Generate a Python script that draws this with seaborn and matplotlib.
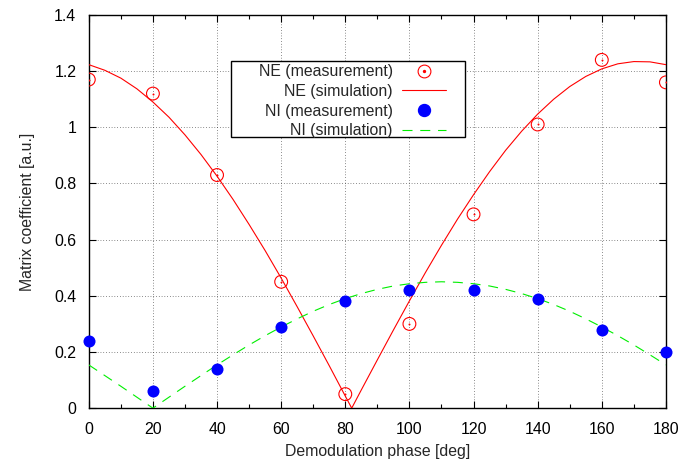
import numpy as np
import pandas as pd
import seaborn as sns
import matplotlib
matplotlib.use("Agg")
import matplotlib.pyplot as plt
from matplotlib.lines import Line2D
from matplotlib.patches import Rectangle
from matplotlib.legend_handler import HandlerTuple
from matplotlib.ticker import MultipleLocator, FuncFormatter

fase_mis = [0, 20, 40, 60, 80, 100, 120, 140, 160, 180]
ne_mis = [1.17, 1.12, 0.83, 0.45, 0.05, 0.30, 0.69, 1.01, 1.24, 1.16]
ni_mis = [0.24, 0.06, 0.14, 0.29, 0.38, 0.42, 0.42, 0.39, 0.28, 0.20]

# simulazione NE (minimo a ~82 deg)
fase_ne_sim = [0, 5, 10, 15, 20, 25, 30, 35, 40, 45, 50, 55, 60, 65, 70, 75, 80, 82,
               85, 90, 95, 100, 105, 110, 115, 120, 125, 130, 135, 140, 145, 150,
               155, 160, 165, 170, 175, 180]
ne_sim = [1.223, 1.203, 1.175, 1.137, 1.090, 1.036, 0.973, 0.903, 0.826, 0.743,
          0.654, 0.561, 0.463, 0.361, 0.257, 0.151, 0.043, 0.0, 0.065, 0.172,
          0.278, 0.382, 0.483, 0.580, 0.673, 0.760, 0.842, 0.918, 0.986, 1.047,
          1.100, 1.145, 1.181, 1.208, 1.226, 1.234, 1.233, 1.223]

# simulazione NI (minimo a ~20 deg)
fase_ni_sim = [0, 5, 10, 15, 20, 25, 30, 35, 40, 45, 50, 55, 60, 65, 70, 75, 80,
               85, 90, 95, 100, 105, 110, 115, 120, 125, 130, 135, 140, 145, 150,
               155, 160, 165, 170, 175, 180]
ni_sim = [0.154, 0.116, 0.078, 0.039, 0.0, 0.039, 0.078, 0.116, 0.154, 0.190,
          0.225, 0.258, 0.289, 0.318, 0.345, 0.369, 0.390, 0.408, 0.423, 0.435,
          0.443, 0.448, 0.450, 0.448, 0.443, 0.435, 0.423, 0.408, 0.390, 0.369,
          0.345, 0.318, 0.289, 0.258, 0.225, 0.190, 0.154]

sns.set_theme(style="ticks")
plt.rcParams["font.family"] = ["Liberation Sans", "DejaVu Sans"]
FS = 11.4
plt.rcParams["font.size"] = FS

ROSSO = "#ff0000"
BLU = "#0000ff"
VERDE = "#00ee00"

df_mis = pd.DataFrame({"fase": fase_mis, "NE": ne_mis, "NI": ni_mis})
df_ne = pd.DataFrame({"fase": fase_ne_sim, "val": ne_sim})
df_ni = pd.DataFrame({"fase": fase_ni_sim, "val": ni_sim})

fig = plt.figure(figsize=(6.83, 4.67), dpi=100)
ax = fig.add_axes([0.130, 0.126, 0.845, 0.842])

sns.lineplot(data=df_ne, x="fase", y="val", color=ROSSO, linewidth=0.8,
             estimator=None, ax=ax, zorder=3)
sns.lineplot(data=df_ni, x="fase", y="val", color=VERDE, linewidth=0.8,
             linestyle=(0, (9, 7)), estimator=None, ax=ax, zorder=3)
sns.scatterplot(data=df_mis, x="fase", y="NE", marker="o", s=85,
                facecolor="none", edgecolor=ROSSO, linewidth=0.8, ax=ax, zorder=4)
sns.scatterplot(data=df_mis, x="fase", y="NE", marker="o", s=2,
                color=ROSSO, linewidth=0, ax=ax, zorder=4)
sns.scatterplot(data=df_mis, x="fase", y="NI", marker="o", s=75,
                color=BLU, linewidth=0, ax=ax, zorder=4, clip_on=False)

ax.set_xlim(0, 180)
ax.set_ylim(0, 1.4)
ax.xaxis.set_major_locator(MultipleLocator(20))
ax.xaxis.set_minor_locator(MultipleLocator(10))
ax.yaxis.set_major_locator(MultipleLocator(0.2))
fmt = FuncFormatter(lambda v, p: "%g" % round(v, 2))
ax.xaxis.set_major_formatter(fmt)
ax.yaxis.set_major_formatter(fmt)
ax.tick_params(which="both", direction="in", top=True, right=True,
               colors="black", labelsize=FS, width=0.8)
ax.tick_params(which="major", length=5)
ax.tick_params(axis="x", which="major", pad=10)
ax.tick_params(axis="y", which="major", pad=9)
ax.tick_params(which="minor", length=3)
for s in ax.spines.values():
    s.set_color("black")
    s.set_linewidth(1.0)
ax.grid(True, which="major", color="#222222", linestyle=(0, (1, 3)), linewidth=0.5)

ax.set_xlabel("Demodulation phase [deg]", fontsize=FS, labelpad=5)
ax.set_ylabel("Matrix coefficient [a.u.]", fontsize=FS, labelpad=14)

# legenda in stile gnuplot: testo allineato a destra, campione a destra
h_ne_mis = (Line2D([], [], marker="o", markersize=9.2, markerfacecolor="none",
                   markeredgecolor=ROSSO, markeredgewidth=0.8, linestyle="none"),
            Line2D([], [], marker="o", markersize=1.4, color=ROSSO, linestyle="none"))
h_ne_sim = Line2D([], [], color=ROSSO, linewidth=0.8)
h_ni_mis = Line2D([], [], marker="o", markersize=8.6, color=BLU, linestyle="none")
h_ni_sim = Line2D([], [], color=VERDE, linewidth=0.8, linestyle=(0, (9, 7)))

# cornice della legenda
ax.add_patch(Rectangle((0.246, 0.690), 0.406, 0.193, transform=ax.transAxes,
                       facecolor="white", edgecolor="black", linewidth=1.0, zorder=5))

leg = ax.legend([h_ne_mis, h_ne_sim, h_ni_mis, h_ni_sim],
                ["NE (measurement)", "NE (simulation)", "NI (measurement)", "NI (simulation)"],
                handler_map={tuple: HandlerTuple(ndivide=1, pad=0)},
                markerfirst=False, loc="upper right", bbox_to_anchor=(0.619, 0.875),
                frameon=False, fontsize=FS,
                handlelength=2.75, handletextpad=0.6, labelspacing=0.30,
                borderpad=0, borderaxespad=0)
leg.set_zorder(6)

fig.savefig("out.png", dpi=100)
